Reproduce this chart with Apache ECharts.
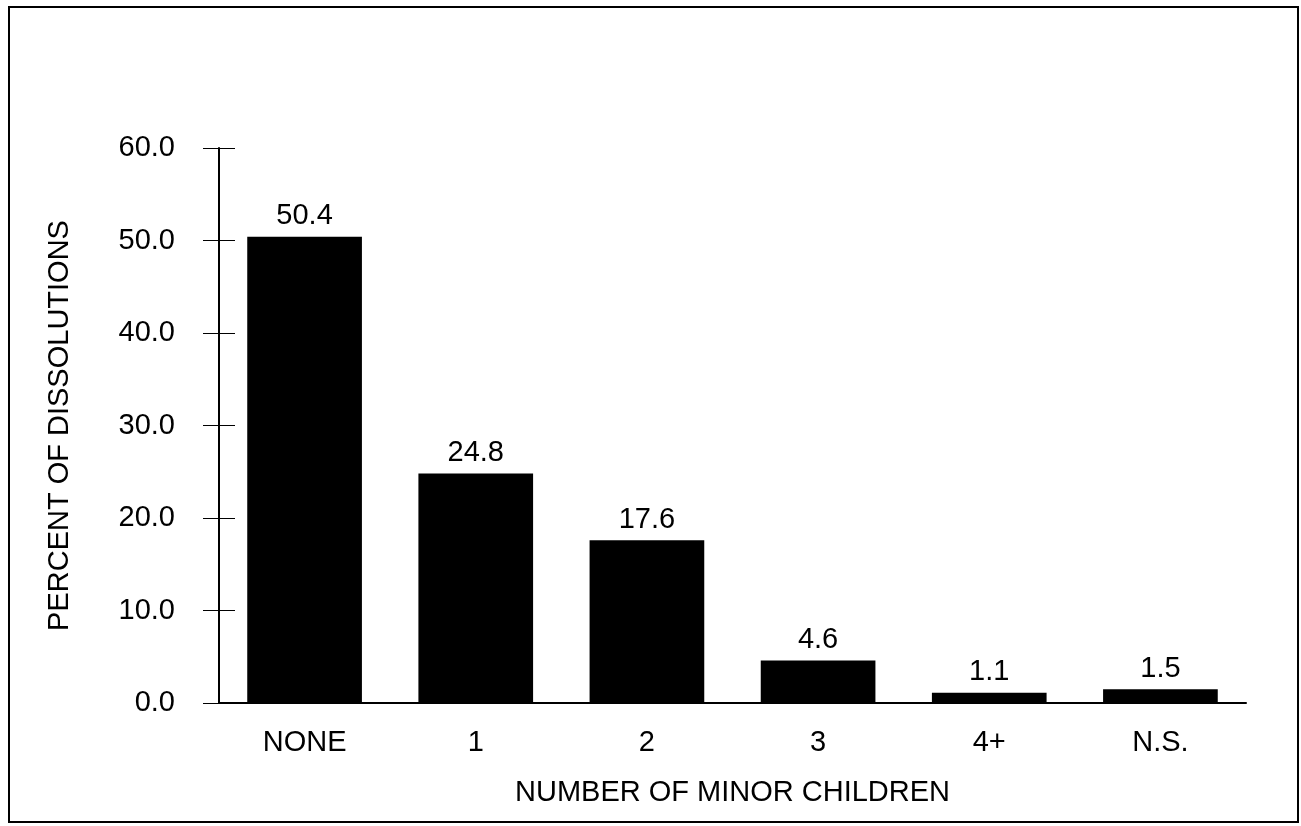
<!DOCTYPE html>
<html>
<head>
<meta charset="utf-8">
<script src="https://cdn.jsdelivr.net/npm/echarts@6/dist/echarts.min.js"></script>
<style>
html,body{margin:0;padding:0;background:#fff;}
#chart{width:1301px;height:826px;}
</style>
</head>
<body>
<div id="chart"></div>
<script>
const categories = ['NONE', '1', '2', '3', '4+', 'N.S.'];
const percentValues = [50.4, 24.8, 17.6, 4.6, 1.1, 1.5];
const yTicks = [0, 10, 20, 30, 40, 50, 60];

const chart = echarts.init(document.getElementById('chart'));
const font = '"Liberation Sans", Arial, sans-serif';
const yMin = yTicks[0], yMax = yTicks[yTicks.length - 1], yStep = yTicks[1] - yTicks[0];

chart.setOption({
  backgroundColor: '#fff',
  animation: false,
  graphic: [{
    type: 'rect',
    shape: { x: 9, y: 7, width: 1289, height: 815 },
    style: { fill: 'none', stroke: '#000', lineWidth: 2 },
    silent: true
  }],
  grid: { left: 219, right: 55, top: 148, bottom: 123 },
  xAxis: {
    type: 'category',
    data: categories,
    name: 'NUMBER OF MINOR CHILDREN',
    nameLocation: 'middle',
    nameGap: 75,
    nameTextStyle: { fontFamily: font, fontSize: 29, color: '#000' },
    axisLine: { lineStyle: { color: '#000', width: 2 } },
    axisTick: { alignWithLabel: true, length: 13, lineStyle: { color: '#000', width: 1 } },
    axisLabel: { fontFamily: font, fontSize: 29, color: '#000', margin: 25 },
    splitLine: { show: false }
  },
  yAxis: [{
    type: 'value',
    min: yMin, max: yMax, interval: yStep,
    name: 'PERCENT OF DISSOLUTIONS',
    nameLocation: 'middle',
    nameRotate: 90,
    nameGap: 145,
    nameTextStyle: { fontFamily: font, fontSize: 29, color: '#000' },
    axisLine: { show: true, lineStyle: { color: '#000', width: 2 } },
    axisTick: { show: true, length: 16, lineStyle: { color: '#000', width: 1 } },
    axisLabel: { fontFamily: font, fontSize: 29, color: '#000', margin: 44, formatter: v => v.toFixed(1) },
    splitLine: { show: false }
  }, {
    type: 'value',
    position: 'left',
    min: yMin, max: yMax, interval: yStep,
    axisLine: { show: false },
    axisTick: { show: true, inside: true, length: 16, lineStyle: { color: '#000', width: 1 } },
    axisLabel: { show: false },
    splitLine: { show: false }
  }],
  series: [{
    type: 'bar',
    data: percentValues,
    barCategoryGap: '33%',
    itemStyle: { color: '#000' },
    label: {
      show: true, position: 'top', distance: 6,
      fontFamily: font, fontSize: 29, color: '#000',
      formatter: p => p.value.toFixed(1)
    }
  }]
});
</script>
</body>
</html>
